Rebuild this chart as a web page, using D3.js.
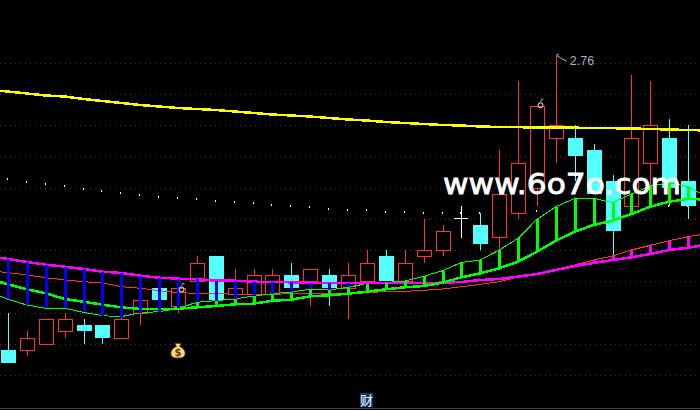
<!DOCTYPE html>
<html><head><meta charset="utf-8">
<script src="https://cdn.jsdelivr.net/npm/d3@7/dist/d3.min.js"></script>
<style>html,body{margin:0;padding:0;background:#000;overflow:hidden}svg{display:block}</style>
</head><body><svg id="c" width="700" height="410"></svg>
<script>
const upCandle=[0,1,1,1,0,0,1,1,0,1,1,0,1,1,1,0,1,0,1,1,0,1,1,1,2,0,1,1,1,1,0,0,0,1,1,0,0,0];
const bodyTop=[2.29,2.31,2.34,2.34,2.33,2.33,2.34,2.37,2.39,2.39,2.43,2.44,2.39,2.41,2.41,2.41,2.42,2.41,2.41,2.43,2.44,2.43,2.45,2.48,2.50,2.49,2.54,2.59,2.68,2.65,2.63,2.61,2.56,2.63,2.65,2.63,2.56,2.47];
const bodyBot=[2.27,2.29,2.30,2.32,2.32,2.31,2.31,2.35,2.37,2.36,2.40,2.37,2.38,2.38,2.38,2.39,2.40,2.39,2.39,2.40,2.40,2.40,2.44,2.45,2.50,2.46,2.47,2.51,2.55,2.63,2.60,2.54,2.48,2.52,2.59,2.55,2.52,2.44];
const high=[2.35,2.32,2.34,2.35,2.34,2.33,2.35,2.37,2.39,2.39,2.44,2.44,2.42,2.42,2.42,2.43,2.42,2.42,2.43,2.45,2.45,2.45,2.50,2.49,2.52,2.51,2.61,2.72,2.68,2.76,2.65,2.62,2.57,2.73,2.72,2.66,2.65,2.52];
const low=[2.27,2.28,2.30,2.31,2.30,2.30,2.31,2.33,2.37,2.35,2.40,2.37,2.37,2.38,2.38,2.39,2.36,2.36,2.34,2.40,2.40,2.40,2.43,2.44,2.47,2.45,2.45,2.50,2.52,2.59,2.56,2.54,2.44,2.52,2.55,2.52,2.50,2.44];
const whiteDots=[2.5636,2.5588,2.5556,2.5524,2.5476,2.5444,2.5412,2.538,2.5348,2.5332,2.5316,2.5284,2.5268,2.5252,2.522,2.5204,2.5188,2.5156,2.514,2.514,2.5108,2.5108,2.5092,2.5092,2.5092,2.5092,2.5092,2.5108,2.5124,2.514,2.5156,2.5172,2.5188,2.5196,2.5204,2.5212,2.5204,2.52];
// the line series start one session before the first visible candle
const yellowLine=[2.7064,2.7036,2.7004,2.6972,2.6956,2.6916,2.6884,2.6852,2.682,2.6796,2.6772,2.6756,2.674,2.6716,2.6692,2.6668,2.6652,2.6636,2.6612,2.6588,2.6572,2.6548,2.6532,2.6516,2.65,2.6492,2.6476,2.6468,2.6465,2.646,2.646,2.6457,2.6452,2.6449,2.6444,2.6436,2.6428,2.642,2.6412];
const magentaLine=[2.4404,2.4356,2.4308,2.4265,2.4233,2.4196,2.4153,2.4132,2.4089,2.4057,2.4041,2.4031,2.4009,2.4009,2.3993,2.3988,2.3983,2.3977,2.3972,2.3972,2.3972,2.3972,2.3972,2.3972,2.3977,2.3988,2.402,2.4036,2.4073,2.4116,2.418,2.4244,2.4292,2.434,2.4383,2.4436,2.45,2.4537,2.4588];
const redLine=[2.4172,2.4137,2.41,2.4057,2.402,2.3993,2.3972,2.3913,2.3887,2.3849,2.3817,2.3807,2.3807,2.3791,2.3791,2.3791,2.3801,2.3801,2.3801,2.3791,2.3817,2.3836,2.3839,2.3855,2.3876,2.3913,2.3951,2.3993,2.4068,2.4116,2.4191,2.426,2.434,2.4404,2.45,2.4575,2.4649,2.4713,2.4764];
const thickGreen=[2.4036,2.3951,2.3871,2.3807,2.3716,2.3673,2.3625,2.3583,2.3556,2.3556,2.3561,2.3583,2.3604,2.3631,2.3641,2.3689,2.3705,2.3759,2.3775,2.3801,2.3833,2.3871,2.3903,2.3924,2.3977,2.4063,2.4127,2.4207,2.4313,2.4473,2.4649,2.4793,2.49,2.4969,2.5076,2.5193,2.5273,2.5316,2.5308];
const thinGreen=[2.3828,2.3711,2.362,2.3567,2.3567,2.3503,2.3449,2.3433,2.3497,2.3513,2.3567,2.3663,2.3689,2.3716,2.3764,2.3801,2.3828,2.3871,2.386,2.3903,2.3964,2.398,2.4004,2.4079,2.4169,2.43,2.434,2.45,2.4687,2.4991,2.5193,2.5327,2.5327,2.5257,2.5396,2.5524,2.5577,2.5513,2.5348];
const gridPrices=[2.75,2.70,2.65,2.60,2.55,2.50,2.45,2.40,2.35,2.30,2.25];
const peakLabel="2.76", peakIndex=29;
const markerIndices=[9,28];
const watermark="www.6o7o.com";

const RED="#ff3232",CYAN="#54ffff";
const svg=d3.select("#c");
svg.append("rect").attr("width",700).attr("height",410).attr("fill","#000");
const x=d3.scaleLinear().domain([0,37]).range([8,707]);
const y=d3.scaleLinear().domain([2.45,2.76]).range([250,56.25]);

const yAxis=d3.axisLeft(y).tickValues(gridPrices).tickSize(-700).tickFormat("");
const ga=svg.append("g").call(yAxis);
ga.select(".domain").remove();
ga.selectAll("line").attr("stroke","#3a3a3a").attr("stroke-dasharray","1 4").attr("shape-rendering","crispEdges");

svg.append("line").attr("x1",0).attr("x2",700).attr("y1",408.5).attr("y2",408.5).attr("stroke","#444");

const idx=d3.range(bodyTop.length);
const crisp=svg.append("g").attr("shape-rendering","crispEdges");

crisp.append("g").selectAll("rect").data(whiteDots).join("rect")
  .attr("x",(d,i)=>Math.round(x(i))-1).attr("y",d=>y(d)-1).attr("width",1).attr("height",2).attr("fill","#fff");

const col=i=>upCandle[i]===1?RED:upCandle[i]===0?CYAN:"#fff";
const cg=crisp.append("g");
cg.selectAll("line.w").data(idx).join("line").attr("class","w")
  .attr("x1",i=>Math.round(x(i))+.5).attr("x2",i=>Math.round(x(i))+.5)
  .attr("y1",i=>y(high[i])).attr("y2",i=>y(low[i])).attr("stroke",col);
cg.selectAll("rect").data(idx.filter(i=>upCandle[i]!==2)).join("rect")
  .attr("x",i=>Math.round(x(i))-7+(upCandle[i]?.5:0))
  .attr("width",i=>upCandle[i]?14:15)
  .attr("y",i=>Math.round(y(bodyTop[i]))+(upCandle[i]?.5:0))
  .attr("height",i=>Math.round(y(bodyBot[i]))-Math.round(y(bodyTop[i])))
  .attr("fill",i=>upCandle[i]?"#000":CYAN).attr("stroke",i=>upCandle[i]?RED:"none");
cg.selectAll("line.d").data(idx.filter(i=>upCandle[i]===2)).join("line").attr("class","d")
  .attr("x1",i=>x(i)-7).attr("x2",i=>x(i)+7).attr("y1",i=>y(bodyTop[i])).attr("y2",i=>y(bodyTop[i])).attr("stroke","#fff");

const line=d3.line().x((d,i)=>x(i-1)).y(d=>y(d));
const draw=(data,c,w)=>crisp.append("path").attr("d",line(data)).attr("fill","none").attr("stroke",c).attr("stroke-width",w);
draw(yellowLine,"#ffff00",2.5);
draw(redLine,RED,1);
draw(thinGreen,"#00ff00",1);
draw(magentaLine,"#ff00ff",2.5);
draw(thickGreen,"#00ff00",2.5);

// bars between the averages
const bar=(filter,a,b,c)=>crisp.append("g").selectAll("rect").data(idx.filter(filter)).join("rect")
  .attr("x",i=>Math.round(x(i))-1).attr("width",3)
  .attr("y",i=>Math.min(y(a[i+1]),y(b[i+1]))).attr("height",i=>Math.abs(y(a[i+1])-y(b[i+1]))).attr("fill",c);
bar(i=>y(thinGreen[i+1])<y(thickGreen[i+1])-1,thinGreen,thickGreen,"#00ff00");
bar(i=>y(redLine[i+1])<y(magentaLine[i+1])-1.5,redLine,magentaLine,"#ff00ff");
bar(i=>y(thinGreen[i+1])>y(magentaLine[i+1])+1.5,magentaLine,thinGreen,"#0000ff");

// peak annotation
const px=x(peakIndex);
svg.append("path").attr("d",`M${px+5} ${y(2.76)+2}L${px+.5} ${y(2.76)-1}L${px+3} ${y(2.76)-2.5}M${px+5} ${y(2.76)+2}L${px+11} ${y(2.76)+5}`)
  .attr("fill","none").attr("stroke","#bbb").attr("stroke-width",1);
svg.append("text").attr("x",px+14).attr("y",y(2.76)+9).attr("fill","#9fb4c4")
  .attr("font-family","Liberation Sans, Arial").attr("font-size",12.5).text(peakLabel);

// small tip markers
const mk=svg.append("g").selectAll("g").data(markerIndices).join("g")
  .attr("transform",i=>`translate(${x(i)+3.5},${y(bodyTop[i])+ (i===9?2:-1)})`);
mk.append("circle").attr("r",2.5).attr("fill","none").attr("stroke","#fff").attr("stroke-width",1);
mk.append("path").attr("d","M0 -3L1 -6L3 -6").attr("fill","none").attr("stroke","#c98").attr("stroke-width",1);

// money bag
const bag=svg.append("g").attr("transform","translate(178,350.5)");
bag.append("path").attr("d","M-3 -7L3 -7L1.5 -4C6 -2 7.5 1 7 4C6.5 7 3 7.5 0 7.5C-3 7.5 -6.5 7 -7 4C-7.5 1 -6 -2 -1.5 -4Z")
  .attr("fill","#f8dc80").attr("stroke","#7a4a08").attr("stroke-width",.9);
bag.append("text").attr("text-anchor","middle").attr("y",5.5).attr("font-size",10).attr("font-weight","bold")
  .attr("font-family","DejaVu Sans").attr("fill","#6b3a10").text("$");

// 财 badge
svg.append("rect").attr("x",360).attr("y",393).attr("width",13).attr("height",14).attr("fill","#0a3a70");
svg.append("text").attr("x",366.5).attr("y",405).attr("text-anchor","middle").attr("fill","#fff")
  .attr("font-family","Noto Sans CJK SC").attr("font-size",13).text("财");

// watermark
svg.append("text").attr("x",443).attr("y",193.5).attr("fill","#fff").attr("stroke","#fff").attr("stroke-width",.8)
  .attr("font-family","DejaVu Sans").attr("font-size",28)
  .attr("textLength",238).attr("lengthAdjust","spacingAndGlyphs").text(watermark);
</script></body></html>
